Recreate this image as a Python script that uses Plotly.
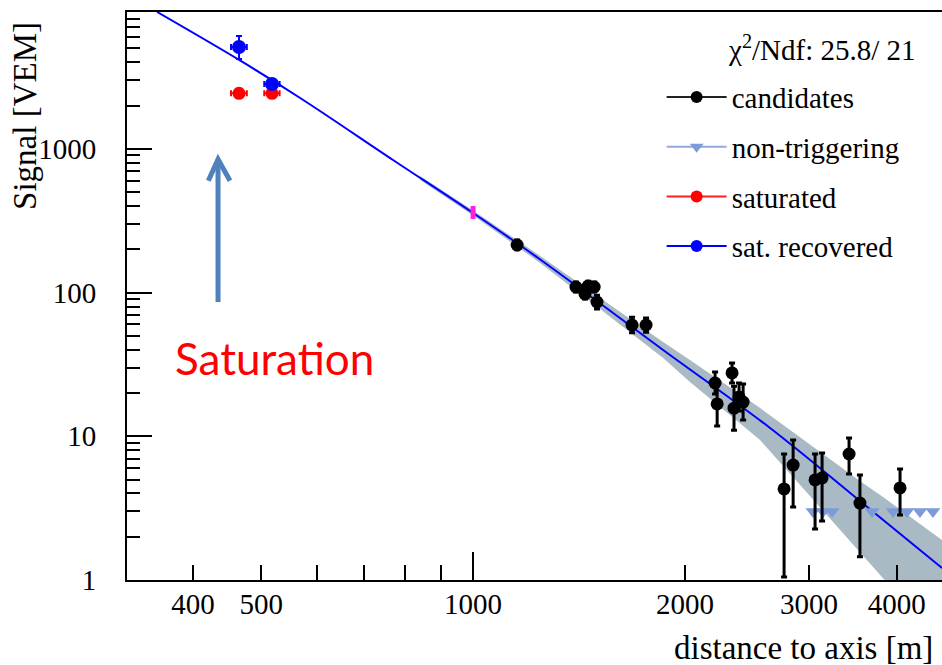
import plotly.graph_objects as go

# ---------------- data ----------------
cand_r = [1155, 1400, 1442, 1457, 1486, 1500, 1682, 1761, 2207, 2222, 2333, 2348,
          2387, 2419, 2766, 2849, 3061, 3132, 3421, 3545, 4042]
cand_s = [214.4, 109.4, 97.8, 111.1, 109.4, 86.0, 59.5, 59.5, 23.5, 16.8, 27.6, 15.7,
          18.8, 17.3, 4.30, 6.31, 4.97, 5.13, 7.53, 3.43, 4.37]
cand_err_up = [18, 9, 8, 9, 9, 10, 8, 7, 4.5, 7.1, 4.8, 6.6,
               4.7, 5.8, 3.23, 3.12, 2.56, 2.53, 2.2, 1.95, 1.55]
cand_err_dn = [16, 8.5, 7.5, 8.5, 8.5, 9, 7, 6.5, 3.8, 5.0, 4.1, 4.7,
               3.8, 4.3, 3.25, 3.09, 2.71, 2.56, 2.06, 1.98, 1.54]

nontrig_r = [3040, 3142, 3236, 3688, 3951, 4135, 4314, 4501]
nontrig_s = [3.0, 3.0, 3.0, 3.0, 3.0, 3.0, 3.0, 3.0]

sat_r = [465, 518]
sat_s = [2437, 2437]
sat_err_r = [12, 13]

rec_r = [465, 518]
rec_s = [5118, 2829]
rec_err_up = [990, 60]
rec_err_dn = [895, 60]
rec_err_r = [12, 13]

s1000_r = [1000]
s1000_s = [363.8]
s1000_err_up = [37]
s1000_err_dn = [38.5]

# fitted LDF curve
fit_r = [355.7, 465.2, 568, 769.6, 1000, 1237, 1862, 2642, 3545, 4637]
fit_s = [8970, 4157, 2261, 837, 358, 174.1, 39.9, 11.42, 3.546, 1.21]

# uncertainty band of the fit
band_r = [841, 1000, 1237, 1515, 1862, 2033, 2557, 3545, 3823, 4637]
band_hi = [647.7, 372.7, 184.2, 91.7, 45.3, 33.96, 15.74, 4.885, 3.78, 1.898]
band_lo = [607.6, 344.0, 164.6, 76.9, 35.07, 23.87, 9.43, 1.566, 1.03, 0.382]

x_ticks = [400, 500, 1000, 2000, 3000, 4000]
x_tick_text = ["400", "500", "1000", "2000", "3000", "4000"]
x_minor = [600, 700, 800, 900]
y_ticks = [1, 10, 100, 1000]
y_tick_text = ["1", "10", "100", "1000"]
y_minor = [m * 10 ** e for e in range(0, 4) for m in range(2, 10)]

legend_names = ["candidates", "non-triggering", "saturated", "sat. recovered"]
legend_line_colors = ["#222222", "#93a9dc", "#ff2020", "#0000ff"]
legend_marker_colors = ["black", "#7d9bd8", "#ff0000", "#0000ff"]
legend_symbols = ["circle", "triangle-down", "circle", "circle"]

SERIF = "Liberation Serif, Times New Roman, serif"
BAND = "rgb(170,186,197)"

fig = go.Figure()

fig.add_trace(go.Scatter(
    x=band_r + band_r[::-1], y=band_hi + band_lo[::-1],
    fill="toself", fillcolor=BAND, mode="lines", line=dict(width=0),
    showlegend=False, hoverinfo="skip"))

fig.add_trace(go.Scatter(
    x=fit_r, y=fit_s, mode="lines", line=dict(color="#0000ff", width=2),
    showlegend=False, line_shape="spline"))

fig.add_trace(go.Scatter(
    x=nontrig_r, y=nontrig_s, mode="markers",
    marker=dict(symbol="triangle-down", size=13, color="#7d9bd8"),
    showlegend=False))

fig.add_trace(go.Scatter(
    x=s1000_r, y=s1000_s, mode="markers", marker=dict(size=1, color="rgba(0,0,0,0)"),
    error_y=dict(type="data", array=s1000_err_up, arrayminus=s1000_err_dn,
                 color="#ff22dd", thickness=5, width=0),
    showlegend=False))

fig.add_trace(go.Scatter(
    x=sat_r, y=sat_s, mode="markers",
    marker=dict(symbol="circle", size=13, color="#ff0000"),
    error_x=dict(type="data", array=sat_err_r, color="#ff0000", thickness=2, width=3),
    showlegend=False))

fig.add_trace(go.Scatter(
    x=rec_r, y=rec_s, mode="markers",
    marker=dict(symbol="circle", size=14, color="#0000ff"),
    error_x=dict(type="data", array=rec_err_r, color="#0000ff", thickness=2, width=3),
    error_y=dict(type="data", array=rec_err_up, arrayminus=rec_err_dn,
                 color="#0000ff", thickness=2, width=3),
    showlegend=False))

fig.add_trace(go.Scatter(
    x=cand_r, y=cand_s, mode="markers",
    marker=dict(symbol="circle", size=13, color="black"),
    error_y=dict(type="data", array=cand_err_up, arrayminus=cand_err_dn,
                 color="black", thickness=3, width=3),
    showlegend=False))

# legend entries
for i, name in enumerate(legend_names):
    fig.add_trace(go.Scatter(
        x=[None], y=[None], mode="lines+markers", name=name, legendgroup=name,
        line=dict(color=legend_line_colors[i], width=2),
        marker=dict(symbol=legend_symbols[i], size=12, color=legend_marker_colors[i])))

fig.update_layout(
    width=942, height=665,
    margin=dict(l=127, r=0, t=12, b=85),
    paper_bgcolor="white", plot_bgcolor="white",
    font=dict(family=SERIF, size=29, color="black"),
    showlegend=True,
    legend=dict(x=0.656, y=0.895, xanchor="left", yanchor="top",
                font=dict(family=SERIF, size=29, color="black"),
                bgcolor="rgba(0,0,0,0)", itemwidth=60, tracegroupgap=9,
                traceorder="grouped"),
    xaxis=dict(type="log", range=[2.5083, 3.6662], showgrid=False, zeroline=False,
               showline=True, linecolor="black", linewidth=2, mirror=True,
               tickvals=x_ticks, ticktext=x_tick_text, ticks="inside", ticklen=15,
               tickwidth=1.5, tickcolor="black", ticklabelstandoff=-3,
               tickfont=dict(family=SERIF, size=29),
               minor=dict(tickvals=x_minor, ticks="inside", ticklen=15,
                          tickwidth=1.5, tickcolor="black", showgrid=False)),
    xaxis2=dict(type="log", range=[2.5083, 3.6662], overlaying="x", anchor="y",
                side="bottom", showgrid=False, zeroline=False, showline=False,
                tickvals=[1000], ticks="inside", ticklen=28, tickwidth=1.5,
                tickcolor="black", showticklabels=False),
    yaxis=dict(type="log", range=[0, 3.9527], showgrid=False, zeroline=False,
               showline=True, linecolor="black", linewidth=2,
               tickvals=y_ticks, ticktext=y_tick_text, ticks="inside", ticklen=25,
               tickwidth=1.5, tickcolor="black", ticklabelstandoff=23,
               tickfont=dict(family=SERIF, size=29),
               minor=dict(tickvals=y_minor, ticks="inside", ticklen=13,
                          tickwidth=1.5, tickcolor="black", showgrid=False)),
)

# dummy trace on xaxis2 so the overlay axis is drawn
fig.add_trace(go.Scatter(x=[None], y=[None], xaxis="x2", yaxis="y", showlegend=False))

fig.add_annotation(text="χ<sup>2</sup>/Ndf: 25.8/ 21", xref="paper", yref="paper",
                   x=0.9706, y=0.9366, xanchor="right", yanchor="middle", showarrow=False,
                   font=dict(family=SERIF, size=29, color="black"))
fig.add_annotation(text="Signal [VEM]", xref="paper", yref="paper",
                   x=-0.1252, y=0.817, xanchor="center", yanchor="middle",
                   textangle=-90, showarrow=False,
                   font=dict(family=SERIF, size=33, color="black"))
fig.add_annotation(text="distance to axis [m]", xref="paper", yref="paper",
                   x=0.9914, y=-0.1197, xanchor="right", yanchor="middle",
                   showarrow=False, font=dict(family=SERIF, size=33, color="black"))
fig.add_annotation(text="Saturation", xref="paper", yref="paper",
                   x=0.1804, y=0.3908, xanchor="center", yanchor="middle",
                   showarrow=False, font=dict(family="Lato, Open Sans, sans-serif",
                                              size=44, color="#ff0000"))

ARROW = "#4f81bd"
fig.add_shape(type="line", xref="paper", yref="paper", x0=0.1117, y0=0.4894,
              x1=0.1117, y1=0.738, line=dict(color=ARROW, width=5))
fig.add_shape(type="path", xref="paper", yref="paper",
              path="M 0.0998 0.703 L 0.1117 0.7407 L 0.1264 0.703",
              line=dict(color=ARROW, width=5))

fig.write_html("out.html", config={"displayModeBar": False},
               post_script="document.body.style.margin='0';document.body.style.overflow='hidden';")
